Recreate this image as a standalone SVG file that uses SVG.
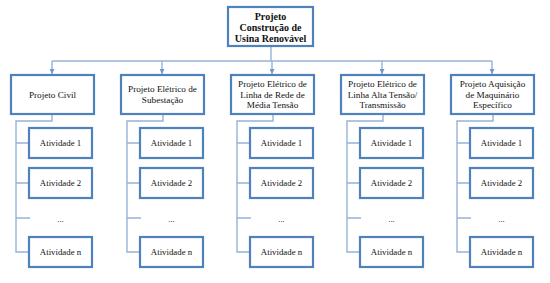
<svg xmlns="http://www.w3.org/2000/svg" width="550" height="283" viewBox="0 0 550 283">
<style>
.box{fill:#fff;stroke:#4f81bd;stroke-width:2.2}
.con{fill:none;stroke:#95b3d7;stroke-width:1.4}
text{font-family:"Liberation Serif","Times New Roman",serif;fill:#111;text-anchor:middle}
.t0{font-size:10px;font-weight:bold}
.t1{font-size:9.2px}
.t2{font-size:8.8px}
</style>
<defs>
<marker id="ar" viewBox="0 0 6 6" refX="6" refY="3" markerWidth="5" markerHeight="5" orient="auto" markerUnits="userSpaceOnUse">
<path d="M0,0 L6,3 L0,6 z" fill="#6f97cc"/>
</marker>
</defs>
<rect width="550" height="283" fill="#fff"/>
<g id="connectors">
<path class="con" d="M271,46 V61 M52,61 H492"/>
<path class="con" d="M52,61 V74" marker-end="url(#ar)"/>
<path class="con" d="M162,61 V74" marker-end="url(#ar)"/>
<path class="con" d="M272,61 V74" marker-end="url(#ar)"/>
<path class="con" d="M382,61 V74" marker-end="url(#ar)"/>
<path class="con" d="M492,61 V74" marker-end="url(#ar)"/>
<path class="con" d="M52,114 V121 H16 V252 H29 M16,143 H29 M16,183 H29 M16,218 H30"/>
<path class="con" d="M163,114 V121 H127 V252 H140 M127,143 H140 M127,183 H140 M127,218 H141"/>
<path class="con" d="M273,114 V121 H237 V252 H250 M237,143 H250 M237,183 H250 M237,218 H251"/>
<path class="con" d="M383,114 V121 H347 V252 H360 M347,143 H360 M347,183 H360 M347,218 H361"/>
<path class="con" d="M493,114 V121 H457 V252 H470 M457,143 H470 M457,183 H470 M457,218 H471"/>
</g>
<g id="root">
<rect class="box" x="228" y="7" width="85" height="39"/>
<text class="t0" x="270.5" y="19.5">Projeto</text>
<text class="t0" x="270.5" y="30.5">Construção de</text>
<text class="t0" x="270.5" y="41.5">Usina Renovável</text>
</g>
<g id="p1">
<rect class="box" x="11" y="75" width="83" height="39"/>
<text class="t1" x="52.5" y="97.5">Projeto Civil</text>
</g>
<g id="p2">
<rect class="box" x="121" y="75" width="83" height="39"/>
<text class="t1" x="162.5" y="92">Projeto Elétrico de</text>
<text class="t1" x="162.5" y="102.5">Subestação</text>
</g>
<g id="p3">
<rect class="box" x="231" y="75" width="83" height="39"/>
<text class="t1" x="272.5" y="87">Projeto Elétrico de</text>
<text class="t1" x="272.5" y="97.5">Linha de Rede de</text>
<text class="t1" x="272.5" y="108">Média Tensão</text>
</g>
<g id="p4">
<rect class="box" x="341" y="75" width="83" height="39"/>
<text class="t1" x="382.5" y="87">Projeto Elétrico de</text>
<text class="t1" x="382.5" y="97.5">Linha Alta Tensão/</text>
<text class="t1" x="382.5" y="108">Transmissão</text>
</g>
<g id="p5">
<rect class="box" x="451" y="75" width="83" height="39"/>
<text class="t1" x="492.5" y="87">Projeto Aquisição</text>
<text class="t1" x="492.5" y="97.5">de Maquinário</text>
<text class="t1" x="492.5" y="108">Específico</text>
</g>
<g id="a1">
<rect class="box" x="29" y="128" width="63" height="30"/><text class="t2" x="60.5" y="146">Atividade 1</text>
<rect class="box" x="29" y="168" width="63" height="30"/><text class="t2" x="60.5" y="186">Atividade 2</text>
<text class="t2" x="60.5" y="222">...</text>
<rect class="box" x="29" y="237" width="63" height="30"/><text class="t2" x="60.5" y="255">Atividade n</text>
</g>
<g id="a2">
<rect class="box" x="140" y="128" width="63" height="30"/><text class="t2" x="171.5" y="146">Atividade 1</text>
<rect class="box" x="140" y="168" width="63" height="30"/><text class="t2" x="171.5" y="186">Atividade 2</text>
<text class="t2" x="171.5" y="222">...</text>
<rect class="box" x="140" y="237" width="63" height="30"/><text class="t2" x="171.5" y="255">Atividade n</text>
</g>
<g id="a3">
<rect class="box" x="250" y="128" width="63" height="30"/><text class="t2" x="281.5" y="146">Atividade 1</text>
<rect class="box" x="250" y="168" width="63" height="30"/><text class="t2" x="281.5" y="186">Atividade 2</text>
<text class="t2" x="281.5" y="222">...</text>
<rect class="box" x="250" y="237" width="63" height="30"/><text class="t2" x="281.5" y="255">Atividade n</text>
</g>
<g id="a4">
<rect class="box" x="360" y="128" width="63" height="30"/><text class="t2" x="391.5" y="146">Atividade 1</text>
<rect class="box" x="360" y="168" width="63" height="30"/><text class="t2" x="391.5" y="186">Atividade 2</text>
<text class="t2" x="391.5" y="222">...</text>
<rect class="box" x="360" y="237" width="63" height="30"/><text class="t2" x="391.5" y="255">Atividade n</text>
</g>
<g id="a5">
<rect class="box" x="470" y="128" width="63" height="30"/><text class="t2" x="501.5" y="146">Atividade 1</text>
<rect class="box" x="470" y="168" width="63" height="30"/><text class="t2" x="501.5" y="186">Atividade 2</text>
<text class="t2" x="501.5" y="222">...</text>
<rect class="box" x="470" y="237" width="63" height="30"/><text class="t2" x="501.5" y="255">Atividade n</text>
</g>
</svg>
